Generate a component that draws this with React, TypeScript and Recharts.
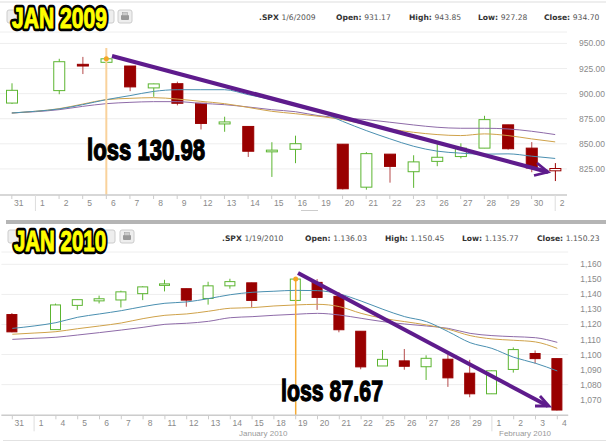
import React from 'react';
import {
  Bar,
  CartesianGrid,
  ComposedChart,
  Line,
  ReferenceDot,
  ReferenceLine,
  XAxis,
  YAxis,
} from 'recharts';

const dates2009 = ['Dec 31', 'Jan 1', 'Jan 2', 'Jan 5', 'Jan 6', 'Jan 7', 'Jan 8', 'Jan 9', 'Jan 12', 'Jan 13', 'Jan 14', 'Jan 15', 'Jan 16', 'Jan 19', 'Jan 20', 'Jan 21', 'Jan 22', 'Jan 23', 'Jan 26', 'Jan 27', 'Jan 28', 'Jan 29', 'Jan 30', 'Feb 2'];
const open2009 = [890.6, null, 903, 929.2, 931.2, 927.5, 905.7, 909.9, 890.4, 869.8, 867.3, 842, 844.5, null, 849.6, 806.8, 839.7, 822.2, 832.5, 837.3, 845.7, 868.9, 845.7, 823.1];
const high2009 = [910.3, null, 934.7, 936.6, 943.9, 927.5, 910, 911.9, 890.4, 877, 867.3, 851.6, 858.1, null, 849.6, 841.7, 839.7, 838.6, 852.5, 850.5, 877.9, 868.9, 851.7, 830.8];
const low2009 = [889.7, null, 899.4, 919.5, 927.3, 902.4, 896.8, 888.3, 864.3, 862, 836.9, 817, 830.7, null, 804.5, 804.3, 811.3, 806.1, 827.7, 835.4, 845.7, 844.2, 821.7, 812.9];
const close2009 = [903.3, null, 931.8, 927.5, 934.7, 906.7, 909.7, 890.4, 870.3, 871.8, 842.6, 843.7, 850.1, null, 805.2, 840.2, 827.5, 832, 836.6, 845.7, 874.1, 845.1, 825.9, 825.4];
const blue2009 = [880.7, 882.4, 884.7, 889, 894, 898, 902.2, 903.9, 903.9, 903.9, 899, 894, 888, 882.4, 872.4, 863.2, 855, 847.6, 842.7, 840.7, 839.7, 840, 837.7, 835.4];
const tan2009 = [880.7, 882.4, 885, 889.6, 894, 895.3, 896, 894.6, 892.3, 890, 886.3, 882.4, 880, 877.4, 874.1, 869.1, 864.8, 861.5, 859.2, 858.2, 859.9, 858.2, 854.9, 851.9];
const purple2009 = [880.7, 882, 884, 887.3, 890, 891.3, 892, 892, 890.3, 889, 886.7, 884, 882, 878, 875.8, 874.1, 871.5, 868.8, 866.5, 865.5, 865.5, 864.8, 862.5, 859.2];
const ticks2009 = [825, 850, 875, 900, 925, 950];

const dates2010 = ['Dec 31', 'Jan 1', 'Jan 4', 'Jan 5', 'Jan 6', 'Jan 7', 'Jan 8', 'Jan 11', 'Jan 12', 'Jan 13', 'Jan 14', 'Jan 15', 'Jan 18', 'Jan 19', 'Jan 20', 'Jan 21', 'Jan 22', 'Jan 25', 'Jan 26', 'Jan 27', 'Jan 28', 'Jan 29', 'Feb 1', 'Feb 2', 'Feb 3', 'Feb 4'];
const open2010 = [1126.6, null, 1116.6, 1132.7, 1135.7, 1136.3, 1140.5, 1146, 1143.8, 1137.3, 1145.7, 1147.7, null, 1136, 1148, 1138.7, 1115.5, 1092.4, 1095.8, 1091.9, 1096.9, 1087.6, 1073.9, 1090.1, 1100.7, 1097.3];
const high2010 = [1127.6, null, 1133.9, 1136.6, 1139.2, 1142.5, 1145.4, 1149.7, 1143.8, 1148.4, 1150.4, 1147.8, null, 1150.5, 1150.2, 1141.6, 1115.5, 1103, 1103.7, 1099.5, 1100.2, 1096.5, 1089.4, 1104.7, 1102.7, 1097.3];
const low2010 = [1114.8, null, 1116.6, 1129.7, 1134, 1131.3, 1136.2, 1142, 1131.8, 1133.2, 1143.8, 1131.4, null, 1135.8, 1129.7, 1114.8, 1090.2, 1092.4, 1089.9, 1083.1, 1078.5, 1071.6, 1073.9, 1088, 1094, 1062.8];
const close2010 = [1115.1, null, 1133, 1136.5, 1137.1, 1141.7, 1145, 1147, 1136.2, 1145.7, 1148.5, 1136, null, 1150.2, 1138, 1116.5, 1091.8, 1096.8, 1092.2, 1097.5, 1084.5, 1073.9, 1089.2, 1103.3, 1097.3, 1063.1];
const blue2010 = [1117.4, 1119, 1121.2, 1124.8, 1127, 1129.2, 1131.9, 1134.1, 1135, 1137.2, 1139.8, 1141.4, 1142.1, 1142.7, 1142.5, 1140.3, 1135.6, 1130.1, 1125.2, 1121.9, 1115.2, 1107.9, 1104.1, 1098.2, 1094.2, 1089.1];
const tan2010 = [1113.5, 1114.3, 1115.2, 1117.2, 1119, 1121, 1123.9, 1126.1, 1127, 1128.8, 1130.8, 1131.2, 1132.3, 1133, 1133.4, 1131.9, 1127.4, 1124.1, 1121.9, 1119.7, 1116.8, 1112.6, 1110.4, 1109.5, 1108.4, 1104.1];
const purple2010 = [1110.1, 1110.8, 1111.5, 1113, 1114.6, 1116.3, 1118.1, 1120.1, 1120.8, 1122.1, 1124.5, 1125.2, 1126.1, 1126.8, 1127.4, 1126.3, 1124.1, 1121.9, 1120.3, 1119, 1117.4, 1114.1, 1112.6, 1111.9, 1111.2, 1108.1];
const ticks2010 = [1070, 1080, 1090, 1100, 1110, 1120, 1130, 1140, 1150, 1160];

const RED = '#990000';
const GREEN = '#5cb531';
const SANS = '"Liberation Sans", Arial, sans-serif';
const HEAD = '"DejaVu Sans", Verdana, sans-serif';
const NARROW = '"Liberation Sans Narrow", "Liberation Sans", sans-serif';

const buildRows = (dates, open, high, low, close, blue, tan, purple) => {
  let prev = null;
  return dates.map((date, i) => {
    const row = {
      date,
      open: open[i],
      high: high[i],
      low: low[i],
      close: close[i],
      prevClose: prev,
      blue: blue[i],
      tan: tan[i],
      purple: purple[i],
    };
    if (close[i] != null) prev = close[i];
    return row;
  });
};

const rows2009 = buildRows(dates2009, open2009, high2009, low2009, close2009, blue2009, tan2009, purple2009);
const rows2010 = buildRows(dates2010, open2010, high2010, low2010, close2010, blue2010, tan2010, purple2010);

const Candle = (props: any) => {
  const { x, y, width, height, payload } = props;
  if (!payload || payload.high == null) return null;
  const { open, high, low, close, prevClose } = payload;
  const yOf = (price: number) => y + ((high - price) / (high - low)) * height;
  const filled = close < open;
  const color = filled || (prevClose != null && close < prevClose) ? RED : GREEN;
  const top = yOf(Math.max(open, close));
  const bottom = yOf(Math.min(open, close));
  const mid = x + width / 2;
  return (
    <g>
      <line x1={mid} x2={mid} y1={y} y2={y + height} stroke={filled ? '#b54a4a' : color} strokeWidth={1} />
      <rect
        x={x + 0.5}
        y={top}
        width={width - 1}
        height={Math.max(bottom - top, 1)}
        fill={filled ? RED : '#fff'}
        stroke={filled ? RED : color}
        strokeWidth={1}
      />
    </g>
  );
};

const DayTick = (props: any) => {
  const { x, y, payload, monthStarts } = props;
  const label = payload.value.split(' ')[1];
  const long = monthStarts.includes(payload.value);
  return (
    <g>
      <line x1={x} x2={x} y1={y - 8} y2={long ? y + 8 : y - 4} stroke={long ? '#ddd' : '#ccc'} />
      <text x={x + 7} y={y + 3} textAnchor="middle" fontFamily={SANS} fontSize={8.5} fill="#8a8a8a">
        {label}
      </text>
    </g>
  );
};

const Cursor = (color: string, drop: number, width: number) => (p: any) =>
  <line x1={p.x1} x2={p.x2} y1={p.y1} y2={p.y2 + drop} stroke={color} strokeWidth={width} />;

const StockPanel = ({ rows, ticks, domain, top, height, marginTop, marginLeft, axisWidth, axisHeight, barSize, cursorAt, cursorPrice, cursorColor, cursorDrop, cursorWidth, monthStarts, format }: any) => (
  <div style={{ position: 'absolute', left: 0, top }}>
    <ComposedChart
      width={606}
      height={height}
      data={rows}
      margin={{ top: marginTop, right: 0, bottom: 0, left: marginLeft }}
    >
      <CartesianGrid horizontal vertical={false} stroke="#eeeeee" />
      <XAxis
        dataKey="date"
        interval={0}
        height={axisHeight}
        axisLine={{ stroke: '#cccccc', strokeWidth: 1.5 }}
        tickLine={false}
        tick={<DayTick monthStarts={monthStarts} />}
      />
      <YAxis
        orientation="right"
        type="number"
        domain={domain}
        ticks={ticks}
        width={axisWidth}
        axisLine={false}
        tickLine={false}
        tickMargin={6}
        allowDataOverflow
        tick={{ fontFamily: SANS, fontSize: 8.5, fill: '#8a8a8a' }}
        tickFormatter={format}
      />
      <Bar
        dataKey={(d: any) => (d.high == null ? null : [d.low, d.high])}
        barSize={barSize}
        shape={<Candle />}
        isAnimationActive={false}
      />
      <Line dataKey="purple" type="monotone" stroke="#8e6ba8" strokeWidth={1} dot={false} isAnimationActive={false} />
      <Line dataKey="tan" type="monotone" stroke="#cfa24a" strokeWidth={1} dot={false} isAnimationActive={false} />
      <Line dataKey="blue" type="monotone" stroke="#4a8fb0" strokeWidth={1} dot={false} isAnimationActive={false} />
      <ReferenceLine x={cursorAt} shape={Cursor(cursorColor, cursorDrop, cursorWidth)} />
      <ReferenceDot x={cursorAt} y={cursorPrice} r={2.5} fill="#f5a623" stroke="none" />
    </ComposedChart>
  </div>
);

const Badge = ({ x, y, width, children }: any) => (
  <g fontFamily={NARROW} fontWeight="bold" fontSize={29} strokeLinejoin="round">
    <text x={x} y={y} textLength={width} lengthAdjust="spacingAndGlyphs" fill="#000" stroke="#000" strokeWidth={6.5}>
      {children}
    </text>
    <text x={x} y={y} textLength={width} lengthAdjust="spacingAndGlyphs" fill="#ffff00" stroke="#ffff00" strokeWidth={1}>
      {children}
    </text>
  </g>
);

const Loss = ({ x, y, width, children }: any) => (
  <text
    x={x}
    y={y}
    textLength={width}
    lengthAdjust="spacingAndGlyphs"
    fontFamily={NARROW}
    fontWeight="bold"
    fontSize={30}
    fill="#000"
    stroke="#000"
    strokeWidth={1.3}
  >
    {children}
  </text>
);

const Quote = ({ x, y, label, value }: any) => (
  <text x={x} y={y} fontFamily={HEAD} fontSize={7.6} fill="#333">
    {label && <tspan fontWeight="bold">{label} </tspan>}
    <tspan fill="#555">{value}</tspan>
  </text>
);

const Button = ({ x, y, w }: any) => (
  <rect x={x} y={y} width={w} height={13} rx={2} fill="#eeeeee" stroke="#cccccc" />
);

const Printer = ({ x, y }: any) => (
  <g>
    <Button x={x} y={y} w={14} />
    <rect x={x + 3} y={y + 5} width={8} height={5} rx={1} fill="#999" />
    <rect x={x + 4.5} y={y + 2.5} width={5} height={3} fill="#ccc" stroke="#999" strokeWidth={0.5} />
  </g>
);

const Overlay = () => (
  <svg width={606} height={445} style={{ position: 'absolute', left: 0, top: 0, pointerEvents: 'none' }}>
    <rect x={0} y={1.5} width={606} height={1} fill="#dddddd" />
    <rect x={6} y={220} width={600} height={4} fill="#b5b5b5" />
    <rect x={3} y={440} width={603} height={1} fill="#e2e2e2" />
    <rect x={301} y={210} width={17} height={1} fill="#cccccc" />

    <Button x={7} y={10} w={14} />
    <Button x={100} y={10} w={14} />
    <Printer x={118} y={10} />
    <Button x={8} y={230} w={14} />
    <Button x={101} y={230} w={14} />
    <Printer x={120} y={230} />

    <Quote x={259} y={20} label=".SPX" value="1/6/2009" />
    <Quote x={336} y={20} label="Open:" value="931.17" />
    <Quote x={409} y={20} label="High:" value="943.85" />
    <Quote x={478} y={20} label="Low:" value="927.28" />
    <Quote x={544} y={20} label="Close:" value="934.70" />

    <Quote x={222} y={241} label=".SPX" value="1/19/2010" />
    <Quote x={305} y={241} label="Open:" value="1.136.03" />
    <Quote x={385} y={241} label="High:" value="1.150.45" />
    <Quote x={462} y={241} label="Low:" value="1.135.77" />
    <Quote x={537} y={241} label="Close:" value="1.150.23" />

    <text x={239} y={436} fontFamily={SANS} fontSize={8} fill="#999">January 2010</text>
    <text x={499} y={436} fontFamily={SANS} fontSize={8} fill="#999">February 2010</text>

    <polyline points="112,56 548,172" fill="none" stroke="#5e1b8c" strokeWidth={4.2} />
    <polyline points="537,163 548,172 534,175.5" fill="none" stroke="#5e1b8c" strokeWidth={2.8} />
    <polyline points="298,273 548,406" fill="none" stroke="#5e1b8c" strokeWidth={4} />
    <polyline points="540,396 549,406 535,406" fill="none" stroke="#5e1b8c" strokeWidth={2.8} />

    <Badge x={12} y={28} width={95}>JAN 2009</Badge>
    <Badge x={14} y={251} width={92}>JAN 2010</Badge>
    <Loss x={87} y={160} width={118}>loss 130.98</Loss>
    <Loss x={281} y={401} width={102}>loss 87.67</Loss>
  </svg>
);

const format2009 = (v: number) => v.toFixed(2);
const format2010 = (v: number) => String(v).replace(/(\d)(\d{3})$/, '$1,$2');

export default function App() {
  return (
    <div style={{ position: 'absolute', left: 0, top: 0, width: 606, height: 445, background: '#fff', overflow: 'hidden' }}>
      <StockPanel
        rows={rows2009}
        ticks={ticks2009}
        domain={[799, 961.4]}
        top={0}
        height={215}
        marginTop={32}
        marginLeft={0}
        axisWidth={39}
        axisHeight={20}
        barSize={12}
        cursorAt="Jan 6"
        cursorPrice={934.7}
        cursorColor="#f9d29c"
        cursorDrop={16}
        cursorWidth={2}
        monthStarts={['Jan 1', 'Feb 2']}
        format={format2009}
      />
      <StockPanel
        rows={rows2010}
        ticks={ticks2010}
        domain={[1059.6, 1168.2]}
        top={225}
        height={215}
        marginTop={27}
        marginLeft={1.4}
        axisWidth={37.8}
        axisHeight={24.7}
        barSize={11}
        cursorAt="Jan 19"
        cursorPrice={1150.23}
        cursorColor="#f5ab35"
        cursorDrop={25}
        cursorWidth={1.5}
        monthStarts={['Jan 1', 'Feb 1']}
        format={format2010}
      />
      <Overlay />
    </div>
  );
}
